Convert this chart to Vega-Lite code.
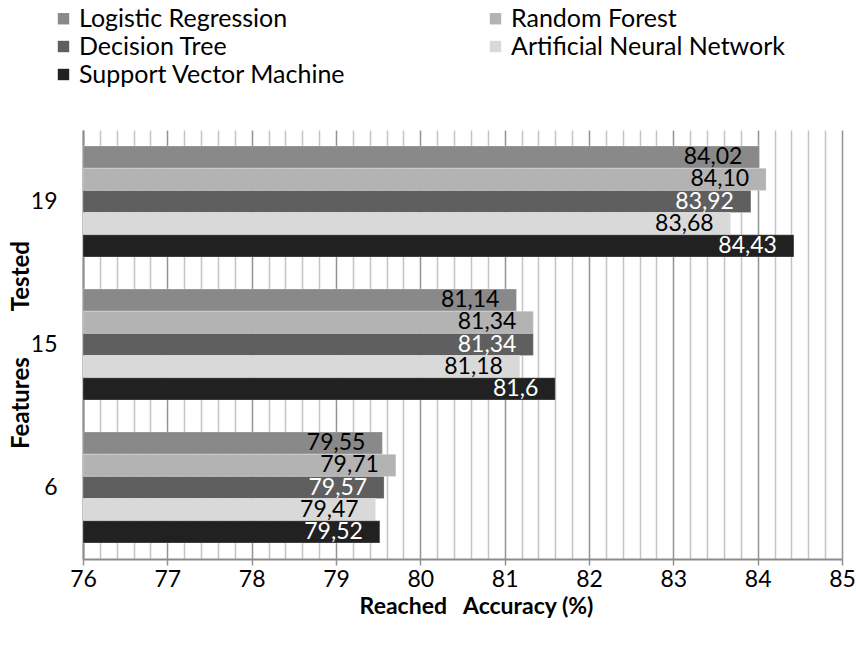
{
  "$schema": "https://vega.github.io/schema/vega-lite/v6.json",
  "width": 759,
  "height": 429,
  "autosize": "none",
  "padding": {"left": 83, "top": 130, "right": 14, "bottom": 89},
  "background": "#ffffff",
  "config": {
    "font": "Lato",
    "view": {"stroke": null},
    "axis": {"labelColor": "#000000", "titleColor": "#000000", "labelFont": "Lato", "titleFont": "Lato"}
  },
  "data": {
    "values": [
      {"features": "19", "model": "Logistic Regression", "value": 84.02, "label": "84,02"},
      {"features": "19", "model": "Random Forest", "value": 84.10, "label": "84,10"},
      {"features": "19", "model": "Decision Tree", "value": 83.92, "label": "83,92"},
      {"features": "19", "model": "Artificial Neural Network", "value": 83.68, "label": "83,68"},
      {"features": "19", "model": "Support Vector Machine", "value": 84.43, "label": "84,43"},
      {"features": "15", "model": "Logistic Regression", "value": 81.14, "label": "81,14"},
      {"features": "15", "model": "Random Forest", "value": 81.34, "label": "81,34"},
      {"features": "15", "model": "Decision Tree", "value": 81.34, "label": "81,34"},
      {"features": "15", "model": "Artificial Neural Network", "value": 81.18, "label": "81,18"},
      {"features": "15", "model": "Support Vector Machine", "value": 81.6, "label": "81,6"},
      {"features": "6", "model": "Logistic Regression", "value": 79.55, "label": "79,55"},
      {"features": "6", "model": "Random Forest", "value": 79.71, "label": "79,71"},
      {"features": "6", "model": "Decision Tree", "value": 79.57, "label": "79,57"},
      {"features": "6", "model": "Artificial Neural Network", "value": 79.47, "label": "79,47"},
      {"features": "6", "model": "Support Vector Machine", "value": 79.52, "label": "79,52"}
    ]
  },
  "encoding": {
    "y": {
      "field": "features",
      "type": "nominal",
      "sort": ["19", "15", "6"],
      "scale": {"paddingInner": 0.224, "paddingOuter": 0.112},
      "axis": {
        "title": "Features\u00a0\u00a0\u00a0\u00a0\u00a0\u00a0\u00a0\u00a0Tested",
        "titleFontSize": 24,
        "titleFontWeight": "bold",
        "titlePadding": -3,
        "labelFontSize": 23,
        "labelAngle": 0,
        "labelPadding": 26,
        "ticks": false,
        "domainColor": "#8c8c8c",
        "domainWidth": 2,
        "grid": false
      }
    },
    "yOffset": {
      "field": "model",
      "type": "nominal",
      "sort": ["Logistic Regression", "Random Forest", "Decision Tree", "Artificial Neural Network", "Support Vector Machine"],
      "scale": {"paddingInner": 0, "paddingOuter": 0}
    }
  },
  "layer": [
    {
      "mark": {"type": "bar", "stroke": "#ffffff", "strokeOpacity": 0.25, "strokeWidth": 1},
      "encoding": {
        "x": {
          "field": "value",
          "type": "quantitative",
          "scale": {"domain": [76, 85], "zero": false, "nice": false},
          "axis": {
            "values": [76, 76.2, 76.4, 76.6, 76.8, 77, 77.2, 77.4, 77.6, 77.8, 78, 78.2, 78.4, 78.6, 78.8, 79, 79.2, 79.4, 79.6, 79.8, 80, 80.2, 80.4, 80.6, 80.8, 81, 81.2, 81.4, 81.6, 81.8, 82, 82.2, 82.4, 82.6, 82.8, 83, 83.2, 83.4, 83.6, 83.8, 84, 84.2, 84.4, 84.6, 84.8, 85],
            "tickCount": 60,
            "title": "Reached\u00a0\u00a0\u00a0Accuracy (%)",
            "titleFontSize": 23,
            "titleFontWeight": "bold",
            "titlePadding": 4,
            "titleX": 393,
            "labelFontSize": 23,
            "labelPadding": 3,
            "labelOverlap": false,
            "labelFlush": false,
            "labelExpr": "abs(datum.value - round(datum.value)) < 0.01 ? format(datum.value, 'd') : ''",
            "grid": true,
            "gridWidth": 1.5,
            "gridColor": {"condition": {"test": "abs(datum.value - round(datum.value)) < 0.01", "value": "#939393"}, "value": "#c4c4c4"},
            "tickSize": 6,
            "tickWidth": 1.5,
            "tickColor": {"condition": {"test": "abs(datum.value - round(datum.value)) < 0.01", "value": "#939393"}, "value": "transparent"},
            "domainColor": "#8c8c8c",
            "domainWidth": 2
          }
        },
        "x2": {"datum": 76},
        "color": {
          "field": "model",
          "type": "nominal",
          "scale": {
            "domain": ["Logistic Regression", "Random Forest", "Decision Tree", "Artificial Neural Network", "Support Vector Machine"],
            "range": ["#898989", "#b3b3b3", "#5f5f5f", "#d9d9d9", "#212121"]
          },
          "legend": {
            "title": null,
            "orient": "none",
            "legendX": -32,
            "legendY": -124,
            "columns": 2,
            "direction": "horizontal",
            "padding": 0,
            "symbolType": "square",
            "symbolSize": 130,
            "symbolStrokeWidth": 0,
            "labelFontSize": 25,
            "labelColor": "#000000",
            "labelOffset": 3,
            "labelLimit": 400,
            "rowPadding": 2,
            "columnPadding": 137
          }
        }
      }
    },
    {
      "mark": {"type": "text", "align": "right", "baseline": "middle", "dx": -17, "fontSize": 23},
      "encoding": {
        "x": {"field": "value", "type": "quantitative"},
        "text": {"field": "label"},
        "color": {
          "condition": {"test": "datum.model === 'Decision Tree' || datum.model === 'Support Vector Machine'", "value": "#ffffff"},
          "value": "#000000"
        }
      }
    }
  ]
}
